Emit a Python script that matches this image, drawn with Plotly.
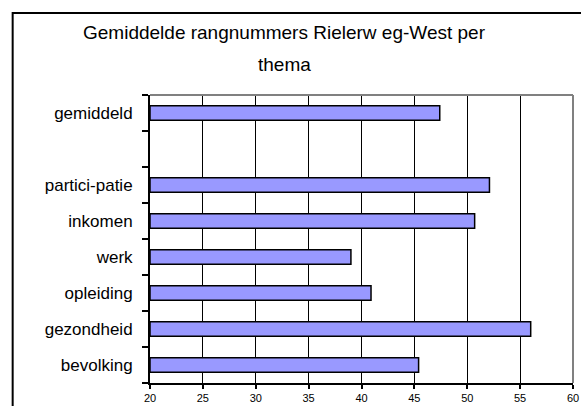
import plotly.graph_objects as go

categories = ["bevolking", "gezondheid", "opleiding", "werk", "inkomen", "partici-patie", " ", "gemiddeld"]
values = [45.4, 56.0, 40.9, 39.0, 50.7, 52.1, None, 47.4]
x_ticks = [20, 25, 30, 35, 40, 45, 50, 55, 60]
x_min, x_max = 20, 60
title_line1 = "Gemiddelde rangnummers Rielerw eg-West per"
title_line2 = "thema"

W, H = 581, 406
L, R, T, B = 149.5, 573, 95, 383  # plot area in window pixels

def px(x):
    return (x - L) / (R - L)

def py(y):
    return (B - y) / (B - T)

fig = go.Figure()
fig.add_trace(go.Bar(
    y=categories,
    x=[None if v is None else v - x_min for v in values],
    base=x_min,
    orientation="h", width=0.4,
    marker=dict(color="#9999FF", line=dict(color="black", width=1.5)),
))

fig.update_layout(
    width=W, height=H,
    margin=dict(l=L, r=W - R, t=T, b=H - B, pad=0, autoexpand=False),
    paper_bgcolor="white", plot_bgcolor="white",
    showlegend=False,
    font=dict(family="Liberation Sans, Arial, sans-serif", color="black"),
    xaxis=dict(range=[x_min, x_max], tickvals=x_ticks, ticks="outside", ticklen=4,
               tickwidth=1.5, tickcolor="black", showline=True, linecolor="black",
               linewidth=2, showgrid=True, gridcolor="black", gridwidth=1,
               tickfont=dict(size=11), zeroline=False, fixedrange=True),
    yaxis=dict(type="category", categoryorder="array", categoryarray=categories,
               range=[-0.5, 7.5], tickson="boundaries", ticks="outside", ticklen=6,
               tickwidth=1.5, tickcolor="black", showline=True, linecolor="black",
               linewidth=2, showgrid=False, tickfont=dict(size=17),
               ticklabelstandoff=12, fixedrange=True),
    shapes=[
        dict(type="line", xref="paper", yref="paper", x0=0, x1=1, y0=1, y1=1,
             line=dict(color="#808080", width=2)),
        dict(type="line", xref="paper", yref="paper", x0=1, x1=1, y0=0, y1=1,
             line=dict(color="#808080", width=2)),
        dict(type="rect", xref="paper", yref="paper", x0=px(12), x1=px(600),
             y0=py(420), y1=py(13), line=dict(color="black", width=2),
             fillcolor="rgba(0,0,0,0)", layer="below"),
    ],
    annotations=[
        dict(text=title_line1, xref="paper", yref="paper", x=px(284), y=py(32),
             showarrow=False, xanchor="center", yanchor="middle", font=dict(size=19)),
        dict(text=title_line2, xref="paper", yref="paper", x=px(284), y=py(64),
             showarrow=False, xanchor="center", yanchor="middle", font=dict(size=19)),
    ],
)

fig.write_html(
    "out.html",
    config={"displayModeBar": False},
    post_script="document.body.style.margin='0';document.body.style.overflow='hidden';",
)
